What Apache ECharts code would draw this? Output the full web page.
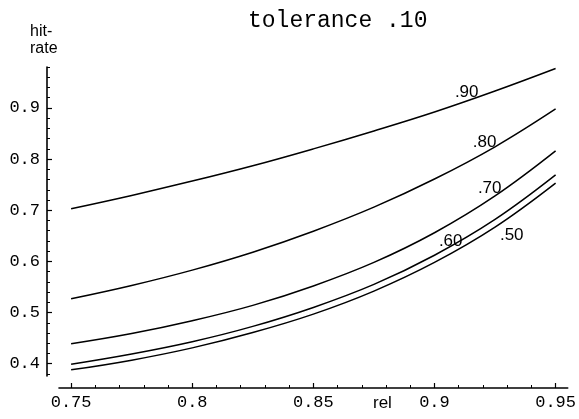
<!DOCTYPE html>
<html><head><meta charset="utf-8">
<script src="https://cdn.jsdelivr.net/npm/echarts@6/dist/echarts.min.js"></script>
<style>html,body{margin:0;padding:0;background:#fff}#c{width:579px;height:419px}</style>
</head><body><div id="c"></div>
<script>
// ---- data ----
const relValues = [0.75, 0.775, 0.8, 0.825, 0.85, 0.875, 0.9, 0.925, 0.95];
const hit90 = [0.703, 0.729, 0.757, 0.787, 0.820, 0.855, 0.892, 0.933, 0.977];
const hit80 = [0.527, 0.553, 0.583, 0.618, 0.659, 0.706, 0.761, 0.824, 0.898];
const hit70 = [0.439, 0.459, 0.484, 0.514, 0.552, 0.598, 0.656, 0.728, 0.816];
const hit60 = [0.399, 0.419, 0.443, 0.473, 0.510, 0.555, 0.612, 0.682, 0.769];
const hit50 = [0.388, 0.407, 0.431, 0.461, 0.497, 0.542, 0.598, 0.667, 0.753];
const curveSeries = [hit90, hit80, hit70, hit60, hit50];
const curveNames = ['.90', '.80', '.70', '.60', '.50'];
const labelX = [0.9133, 0.9207, 0.9228, 0.9067, 0.9319];
const labelY = [0.931, 0.833, 0.743, 0.639, 0.651];

const xMajorTicks = [0.75, 0.8, 0.85, 0.9, 0.95];
const xTickLabels = ['0.75', '0.8', '0.85', '0.9', '0.95'];
const xMinorTicks = [0.76, 0.77, 0.78, 0.79, 0.81, 0.82, 0.83, 0.84, 0.86, 0.87, 0.88, 0.89, 0.91, 0.92, 0.93, 0.94];
const yMajorTicks = [0.4, 0.5, 0.6, 0.7, 0.8, 0.9];
const yTickLabels = ['0.4', '0.5', '0.6', '0.7', '0.8', '0.9'];
const yMinorTicks = [0.38, 0.42, 0.44, 0.46, 0.48, 0.52, 0.54, 0.56, 0.58, 0.62, 0.64, 0.66, 0.68, 0.72, 0.74, 0.76, 0.78, 0.82, 0.84, 0.86, 0.88, 0.92, 0.94, 0.96, 0.98];

const titleText = 'tolerance .10';
const xName = 'rel';
const yName = 'hit-\nrate';

// ---- chart ----
function pick(ticks, labels, v) {
  for (let i = 0; i < ticks.length; i++) if (Math.abs(ticks[i] - v) < 1e-6) return labels[i];
  return '';
}
const X_MIN = 0.745, X_MAX = 0.955, Y_MIN = 0.376, Y_MAX = 0.98;
const monoFont = { fontFamily: 'Liberation Mono', fontSize: 17, color: '#000' };
const axisLineStyle = { show: true, lineStyle: { color: '#000', width: 1.6 } };

const chart = echarts.init(document.getElementById('c'), null, { renderer: 'canvas' });
const series = curveSeries.map((vals, i) => ({
  type: 'line', name: curveNames[i], xAxisIndex: 0, yAxisIndex: 0,
  data: relValues.map((x, j) => [x, vals[j]]),
  smooth: 0.4, symbol: 'none', silent: true,
  lineStyle: { color: '#000', width: 1.5 }
}));
series.push({
  type: 'scatter', xAxisIndex: 0, yAxisIndex: 0, symbolSize: 0, silent: true,
  itemStyle: { color: '#000', opacity: 1 },
  data: curveNames.map((n, i) => ({ name: n, value: [labelX[i], labelY[i]] })),
  label: { show: true, position: 'inside', formatter: p => p.name,
    fontFamily: 'Liberation Sans', fontSize: 17, color: '#000', textBorderWidth: 0, opacity: 1 }
});

chart.setOption({
  animation: false,
  backgroundColor: '#fff',
  title: { text: titleText, left: 243, top: 4,
    textStyle: { fontFamily: 'Liberation Mono', fontWeight: 'normal', fontSize: 23, color: '#000' } },
  grid: { left: 59, right: 11, top: 67, bottom: 43, containLabel: false },
  xAxis: [
    { type: 'value', min: X_MIN, max: X_MAX, position: 'bottom', offset: 12,
      axisLine: axisLineStyle, splitLine: { show: false },
      axisTick: { show: true, inside: true, length: 5, customValues: xMajorTicks, lineStyle: { color: '#000', width: 1.2 } },
      axisLabel: { show: true, customValues: xMajorTicks, margin: 6, ...monoFont,
        formatter: v => pick(xMajorTicks, xTickLabels, v) } },
    { type: 'value', min: X_MIN, max: X_MAX, position: 'bottom', offset: 12,
      axisLine: { show: false }, splitLine: { show: false },
      axisTick: { show: true, inside: true, length: 3, customValues: xMinorTicks, lineStyle: { color: '#000', width: 1 } },
      axisLabel: { show: false } }
  ],
  yAxis: [
    { type: 'value', min: Y_MIN, max: Y_MAX, position: 'left', offset: 12,
      axisLine: axisLineStyle, splitLine: { show: false },
      axisTick: { show: true, inside: true, length: 5, customValues: yMajorTicks, lineStyle: { color: '#000', width: 1.2 } },
      axisLabel: { show: true, customValues: yMajorTicks, margin: 7, ...monoFont,
        formatter: v => pick(yMajorTicks, yTickLabels, v) } },
    { type: 'value', min: Y_MIN, max: Y_MAX, position: 'left', offset: 12,
      axisLine: { show: false }, splitLine: { show: false },
      axisTick: { show: true, inside: true, length: 3, customValues: yMinorTicks, lineStyle: { color: '#000', width: 1 } },
      axisLabel: { show: false } }
  ],
  graphic: [
    { type: 'text', left: 30, top: 23, style: { text: yName, fontFamily: 'Liberation Sans', fontSize: 16, lineHeight: 17, fill: '#000' } },
    { type: 'text', left: 373, top: 395, style: { text: xName, fontFamily: 'Liberation Sans', fontSize: 17, fill: '#000' } }
  ],
  series: series
});
</script></body></html>
